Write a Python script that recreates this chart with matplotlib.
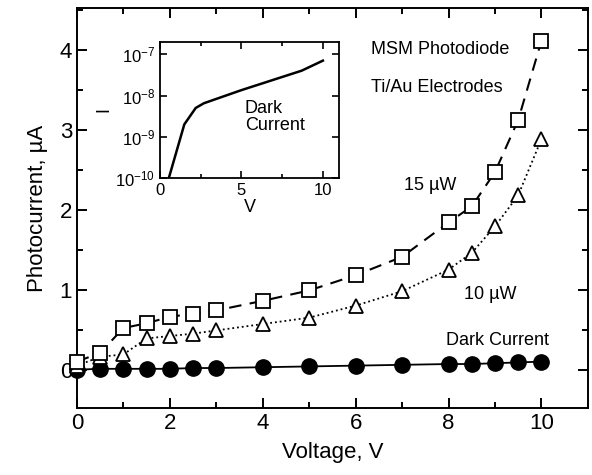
import matplotlib
matplotlib.use('Agg')
import matplotlib.pyplot as plt
from matplotlib.ticker import MultipleLocator, FixedLocator, NullFormatter

# ===== data =====
volts = [0, 0.5, 1, 1.5, 2, 2.5, 3, 4, 5, 6, 7, 8, 8.5, 9, 9.5, 10]
i_15uw = [0.10, 0.21, 0.52, 0.58, 0.66, 0.70, 0.74, 0.86, 0.99, 1.18, 1.41, 1.84, 2.04, 2.47, 3.12, 4.11]
i_10uw = [0.05, 0.16, 0.19, 0.39, 0.42, 0.45, 0.49, 0.57, 0.65, 0.80, 0.98, 1.25, 1.46, 1.79, 2.18, 2.88]
i_dark = [0.00, 0.01, 0.01, 0.01, 0.01, 0.02, 0.02, 0.03, 0.04, 0.05, 0.06, 0.07, 0.07, 0.08, 0.09, 0.10]

inset_v = [0.55, 1.5, 2.2, 2.7, 5, 8.7, 10]
inset_i = [1e-10, 2e-9, 5e-9, 6.5e-9, 1.35e-8, 4e-8, 7e-8]

plt.rcParams['font.family'] = ['Liberation Sans', 'DejaVu Sans']
plt.rcParams['mathtext.fontset'] = 'custom'
plt.rcParams['mathtext.rm'] = 'Liberation Sans'
plt.rcParams['mathtext.default'] = 'regular'

fig = plt.figure(figsize=(5.92, 4.75), dpi=100)
ax = fig.add_axes([0.130, 0.141, 0.863, 0.842])

ax.plot(volts, i_dark, '-', color='black', lw=1.3, marker='o', ms=11,
        mfc='black', mec='black', clip_on=False, zorder=3)
ax.plot(volts, i_10uw, ':', color='black', lw=1.3, marker='^', ms=10,
        mfc='white', mec='black', mew=1.3, clip_on=False, zorder=4)
ax.plot(volts, i_15uw, '--', color='black', lw=1.5, dashes=(6, 4), marker='s', ms=10,
        mfc='white', mec='black', mew=1.3, clip_on=False, zorder=5)

ax.set_xlim(0, 11)
ax.set_ylim(-0.48, 4.52)
ax.xaxis.set_major_locator(MultipleLocator(2))
ax.xaxis.set_minor_locator(MultipleLocator(1))
ax.yaxis.set_major_locator(MultipleLocator(1))
ax.yaxis.set_minor_locator(MultipleLocator(0.5))
ax.tick_params(which='both', direction='in', top=True, right=True, width=1.4, labelsize=16)
ax.tick_params(which='major', length=7)
ax.tick_params(which='minor', length=4)
for s in ax.spines.values():
    s.set_linewidth(1.4)

ax.set_xlabel('Voltage, V', fontsize=16, labelpad=6)
ax.set_ylabel('Photocurrent, \u00b5A', fontsize=16, labelpad=8)

# top-right labels, figure coords
fig.text(440 / 592, 1 - 50 / 475, 'MSM Photodiode', fontsize=13, ha='center', va='center')
fig.text(437 / 592, 1 - 88 / 475, 'Ti/Au Electrodes', fontsize=13, ha='center', va='center')
ax.text(7.6, 2.3, '15 \u00b5W', fontsize=13, ha='center', va='center')
ax.text(8.9, 0.94, '10 \u00b5W', fontsize=13, ha='center', va='center')
ax.text(9.05, 0.37, 'Dark Current', fontsize=13, ha='center', va='center')

# ===== inset =====
ins = fig.add_axes([0.270, 0.625, 0.303, 0.287])
ins.semilogy(inset_v, inset_i, '-', color='black', lw=1.8)
ins.set_xlim(0, 11)
ins.set_ylim(1e-10, 2e-7)
ins.xaxis.set_major_locator(FixedLocator([0, 5, 10]))
ins.xaxis.set_minor_locator(FixedLocator([2.5, 7.5]))
ins.yaxis.set_major_locator(FixedLocator([1e-10, 1e-9, 1e-8, 1e-7]))
ins.yaxis.set_minor_locator(FixedLocator([]))
ins.yaxis.set_minor_formatter(NullFormatter())
ins.set_yticklabels(['$10^{-10}$', '$10^{-9}$', '$10^{-8}$', '$10^{-7}$'])
ins.tick_params(which='both', direction='in', top=True, right=True, width=1.2, labelsize=12)
ins.tick_params(which='major', length=5)
ins.tick_params(which='minor', length=3)
for s in ins.spines.values():
    s.set_linewidth(1.3)
ins.set_xlabel('V', fontsize=13, labelpad=1)
ins.set_ylabel('I', fontsize=13, labelpad=2)
ins.text(5.2, 1.2e-9, 'Dark\nCurrent', fontsize=13, ha='left', va='bottom', linespacing=1.0)

fig.savefig('out.png', dpi=100)
